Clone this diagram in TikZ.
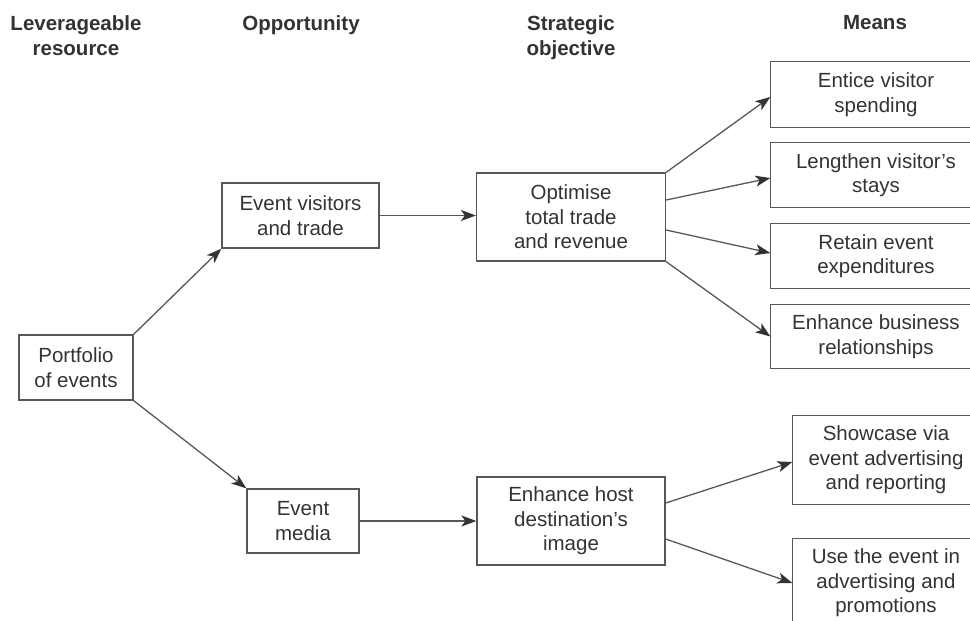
\documentclass[tikz,border=0pt]{standalone}
\usepackage{fontspec}
\setmainfont{Liberation Sans}
\usetikzlibrary{arrows.meta}
\definecolor{linegray}{HTML}{585858}
\definecolor{textgray}{HTML}{333333}

\begin{document}
\begin{tikzpicture}[x=1pt,y=-1pt,
	box/.style 2 args={draw=linegray,line width=1.3pt,inner sep=0pt,align=center,
		text=textgray,font=\fontsize{20.5}{24.5}\selectfont,
		minimum width=#1,minimum height=#2},
	openbox/.style 2 args={box={#1}{#2},draw=none},
	edge line/.style={draw=linegray,line width=1.3pt},
	head/.style={anchor=north,inner sep=0pt,align=center,text=textgray,
		font=\bfseries\fontsize{20.5}{24.5}\selectfont},
	link/.style={draw=linegray,line width=1.3pt,
		-{Stealth[length=15pt,width=11pt,inset=4pt,color=textgray]}}]
	\useasboundingbox (0,0) rectangle (970,621);

	% column headings
	\node[head] (hres) at (76,15.5) {Leverageable\\resource};
	\node[head] (hopp) at (301,15.5) {Opportunity};
	\node[head] (hobj) at (571,15.5) {Strategic\\objective};
	\node[head] (hmean) at (875,15.5) {Means};

	% boxes
	\node[box={114pt}{65pt}] (port) at (76,367.5) {Portfolio\\of events};
	\node[box={157pt}{65pt}] (vis) at (300.5,215.5) {Event visitors\\and trade};
	\node[box={112pt}{64pt}] (media) at (303,521) {Event\\media};
	\node[box={189pt}{88pt}] (opt) at (571,217) {Optimise\\total trade\\and revenue};
	\node[box={188pt}{88pt}] (host) at (571,521) {Enhance host\\destination’s\\image};

	% means, cut off at the right edge
	\node[openbox={210pt}{65pt}] (entice) at (876,94.5) {Entice visitor\\spending};
	\node[openbox={210pt}{64pt}] (stay) at (876,175) {Lengthen visitor’s\\stays};
	\node[openbox={210pt}{64pt}] (retain) at (876,256) {Retain event\\expenditures};
	\node[openbox={210pt}{63pt}] (biz) at (876,336.5) {Enhance business\\relationships};
	\node[openbox={186pt}{88pt}] (show) at (886,460) {Showcase via\\event advertising\\and reporting};
	\node[openbox={186pt}{88pt}] (promo) at (886,583) {Use the event in\\advertising and\\promotions};
	\foreach \m in {entice,stay,retain,biz,show,promo}
		\draw[edge line] ([xshift=30pt]\m.north east) -- (\m.north west)
			-- (\m.south west) -- ([xshift=30pt]\m.south east);

	% connectors
	\draw[link] (port.north east) -- (vis.south west);
	\draw[link] (port.south east) -- (media.north west);
	\draw[link] (vis.east) -- (vis.east -| opt.west);
	\draw[link] (media.east) -- (media.east -| host.west);
	\draw[link] (opt.north east) -- ([yshift=-2.5pt]entice.west);
	\draw[link] ([yshift=17pt]opt.east) -- ([yshift=-3pt]stay.west);
	\draw[link] ([yshift=-13pt]opt.east) -- ([yshift=3pt]retain.west);
	\draw[link] (opt.south east) -- (biz.west);
	\draw[link] ([yshift=18pt]host.east) -- ([yshift=-2pt]show.west);
	\draw[link] ([yshift=-18pt]host.east) -- (promo.west);
\end{tikzpicture}
\end{document}
